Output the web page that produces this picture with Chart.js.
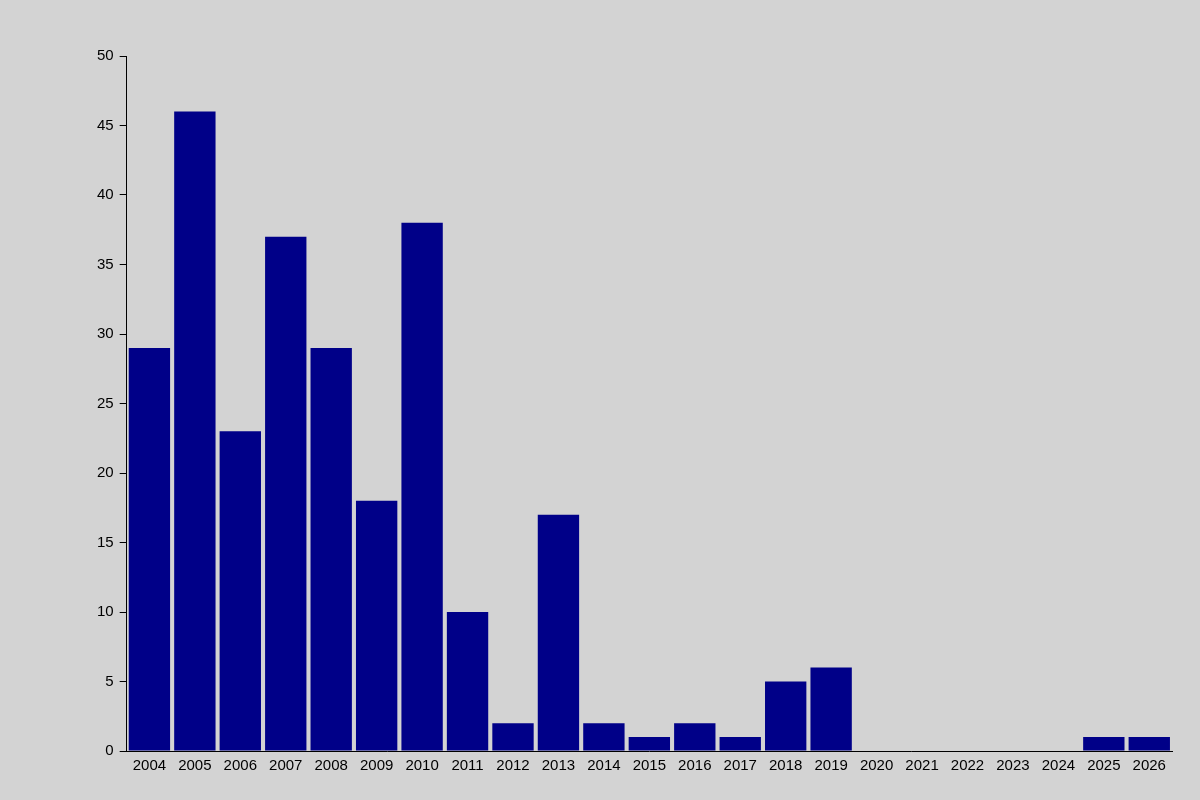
<!DOCTYPE html>
<html><head><meta charset="utf-8">
<script src="https://cdn.jsdelivr.net/npm/chart.js@4"></script>
<style>html,body{margin:0;background:#d3d3d3}#w{width:1200px;height:800px}</style>
</head><body><div id="w"><canvas id="c" width="1200" height="800"></canvas></div>
<script>
const years = ["2004","2005","2006","2007","2008","2009","2010","2011","2012","2013","2014","2015","2016","2017","2018","2019","2020","2021","2022","2023","2024","2025","2026"];
const counts = [29,46,23,37,29,18,38,10,2,17,2,1,2,1,5,6,0,0,0,0,0,1,1];
const yTicks = [0,5,10,15,20,25,30,35,40,45,50];
const FONT = "'Liberation Sans', Arial, sans-serif";

const labelsPlugin = {
  id:'extras',
  afterDatasetsDraw(chart){
    const ctx = chart.ctx, meta = chart.getDatasetMeta(0);
    ctx.save();
    ctx.fillStyle='#000'; ctx.font='15px '+FONT;
    ctx.textAlign='left'; ctx.textBaseline='middle';
    meta.data.forEach((bar,i)=>{
      ctx.save(); ctx.translate(bar.x+1, bar.y-6); ctx.rotate(-Math.PI/2);
      ctx.fillText(String(counts[i]),0,0); ctx.restore();
    });
    const x = chart.scales.x, y = chart.scales.y;
    ctx.fillStyle='#000';
    years.forEach((_,i)=>{ ctx.fillRect(Math.round(x.getPixelForValue(i)),Math.round(y.getPixelForValue(50)),1,1); });
    ctx.textBaseline='middle'; ctx.textAlign='center';
    ctx.fillStyle='#8b0000'; ctx.font='24px '+FONT;
    ctx.fillText('Station A06',648,18);
    ctx.font='18px '+FONT;
    ctx.fillText('Years',517,786);
    ctx.fillText('Contact: mpecspstjahn.de',698,786);
    ctx.save(); ctx.translate(11,403); ctx.rotate(-Math.PI/2);
    ctx.fillStyle='#00008b'; ctx.fillText('MPECs by publication date',0,0); ctx.restore();
    ctx.restore();
  }
};

new Chart(document.getElementById('c'),{
  type:'bar',
  data:{labels:years,datasets:[{data:counts,backgroundColor:'#000088',barPercentage:0.91,categoryPercentage:1}]},
  options:{
    responsive:false,animation:false,devicePixelRatio:1,
    layout:{padding:{left:91,right:28,top:56,bottom:19}},
    plugins:{legend:{display:false},title:{display:false},tooltip:{enabled:false}},
    scales:{
      x:{grid:{display:false,drawTicks:false},border:{color:'#000'},
         ticks:{color:'#000',font:{family:FONT,size:15},padding:6,maxRotation:0,autoSkip:false}},
      y:{min:0,max:50,afterBuildTicks(s){s.ticks=yTicks.map(v=>({value:v}));},
         grid:{drawOnChartArea:false,tickLength:7,color:'#000'},border:{color:'#000'},
         ticks:{color:'#000',font:{family:FONT,size:15},padding:6}}
    }
  }
});
</script></body></html>
